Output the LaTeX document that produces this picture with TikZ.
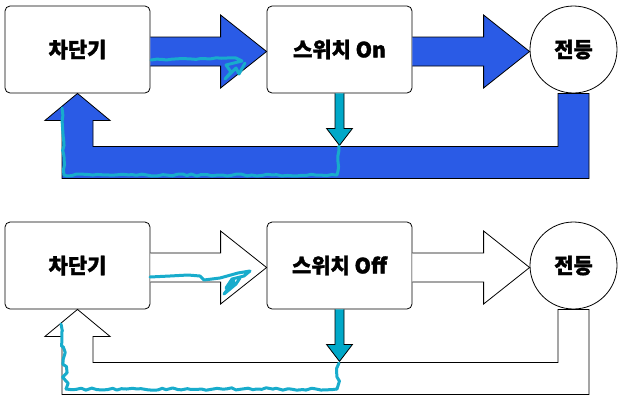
\documentclass[tikz,border=0pt]{standalone}
\usepackage{fontspec}
\newfontfamily\krfont{Noto Sans CJK KR}[BoldFeatures={FakeBold=1.6}]
\usetikzlibrary{calc,positioning,decorations.pathmorphing}
\definecolor{flowblue}{RGB}{42,91,230}
\definecolor{pencyan}{RGB}{24,172,204}
\definecolor{tapcyan}{RGB}{0,168,200}

\begin{document}
\begin{tikzpicture}[
  x=1bp, y=-1bp,
  block/.style={rectangle, draw, rounded corners=5bp, line width=0.8bp, fill=white,
    minimum width=145bp, minimum height=87bp, font=\krfont\bfseries\fontsize{21}{24}\selectfont},
  lamp/.style={circle, draw, line width=0.8bp, fill=white, inner sep=0pt,
    minimum size=87bp, font=\krfont\bfseries\fontsize{21}{24}\selectfont},
  fat/.style={draw, line width=0.8bp, line join=miter},
  tap/.style={draw, fill=tapcyan, line width=0.8bp},
  pen/.style={pencyan, line width=3bp, line cap=round, line join=round},
  wobble/.style={decorate, decoration={random steps, segment length=5bp, amplitude=#1}}
]
  \useasboundingbox (0,0) rectangle (621,404);
  \pgfmathsetseed{7}
  \foreach \oy/\col/\sw [count=\k] in {0/flowblue/On, 216/white/Off} {
    \node[block] (brk\k) at (77.5,49.5+\oy) {차단기};
    \node[block] (sw\k) at (339.5,49.5+\oy) {스위치 \sw};
    \node[lamp] (lamp\k) at (573.5,49.5+\oy) {전등};
    % forward arrows
    \draw[fat, fill=\col] ($(brk\k.east)+(0,-12.5)$) -- ($(sw\k.west)+(-46,-12.5)$) -- ++(0,-22)
      -- ($(sw\k.west)+(0,2)$) -- ($(sw\k.west)+(-46,38.5)$) -- ++(0,-22) -- ($(brk\k.east)+(0,16.5)$);
    \draw[fat, fill=\col] ($(sw\k.east)+(0,-12.5)$) -- ($(lamp\k.west)+(-46,-12.5)$) -- ++(0,-22)
      -- ($(lamp\k.west)+(0,2)$) -- ($(lamp\k.west)+(-46,38.5)$) -- ++(0,-22) -- ($(sw\k.east)+(0,16.5)$);
    % feedback arrow
    \draw[fat, fill=\col] ($(lamp\k.south)+(15.5,0)$) -- ++(0,85) -| ($(brk\k.south)+(-15.5,27)$)
      -- ++(-17,0) -- (brk\k.south) -- ++(32.5,27) -- ++(-17,0) |- ($(lamp\k.south)+(-15.5,53)$)
      -- ++(0,-53) -- cycle;
    % switch tap
    \draw[tap] ($(sw\k.south)+(-4.5,0)$) -- ++(0,35) -- ++(-8.5,0) -- ++(13,17) -- ++(13,-17)
      -- ++(-8.5,0) -- ++(0,-35);
  }
  % scribbles, top
  \draw[pen, wobble=1bp] (339,146) -- (337,175) -- (64,175) -- (62,108);
  \draw[pen, wobble=0.8bp] (151,60) -- (236,58);
  \draw[pen] (236,58) -- (242,61) -- (226,65) -- (231,72) -- (225,79) -- (236,68) -- (239,74)
    -- (245,63);
  % scribbles, bottom
  \draw[pen, wobble=2.2bp] (339,363) -- (337,389);
  \draw[pen, wobble=1.2bp] (337,389) -- (66,389);
  \draw[pen, wobble=2.6bp] (66,389) -- (61,324);
  \draw[pen] (150,277) -- (170,276) -- (188,275) -- (200,276) -- (204,280) -- (220,278)
    -- (238,273) -- (250,271) -- (244,276) -- (232,279) -- (226,288) -- (234,281)
    -- (224,294) -- (236,284) -- (240,278);
\end{tikzpicture}
\end{document}
